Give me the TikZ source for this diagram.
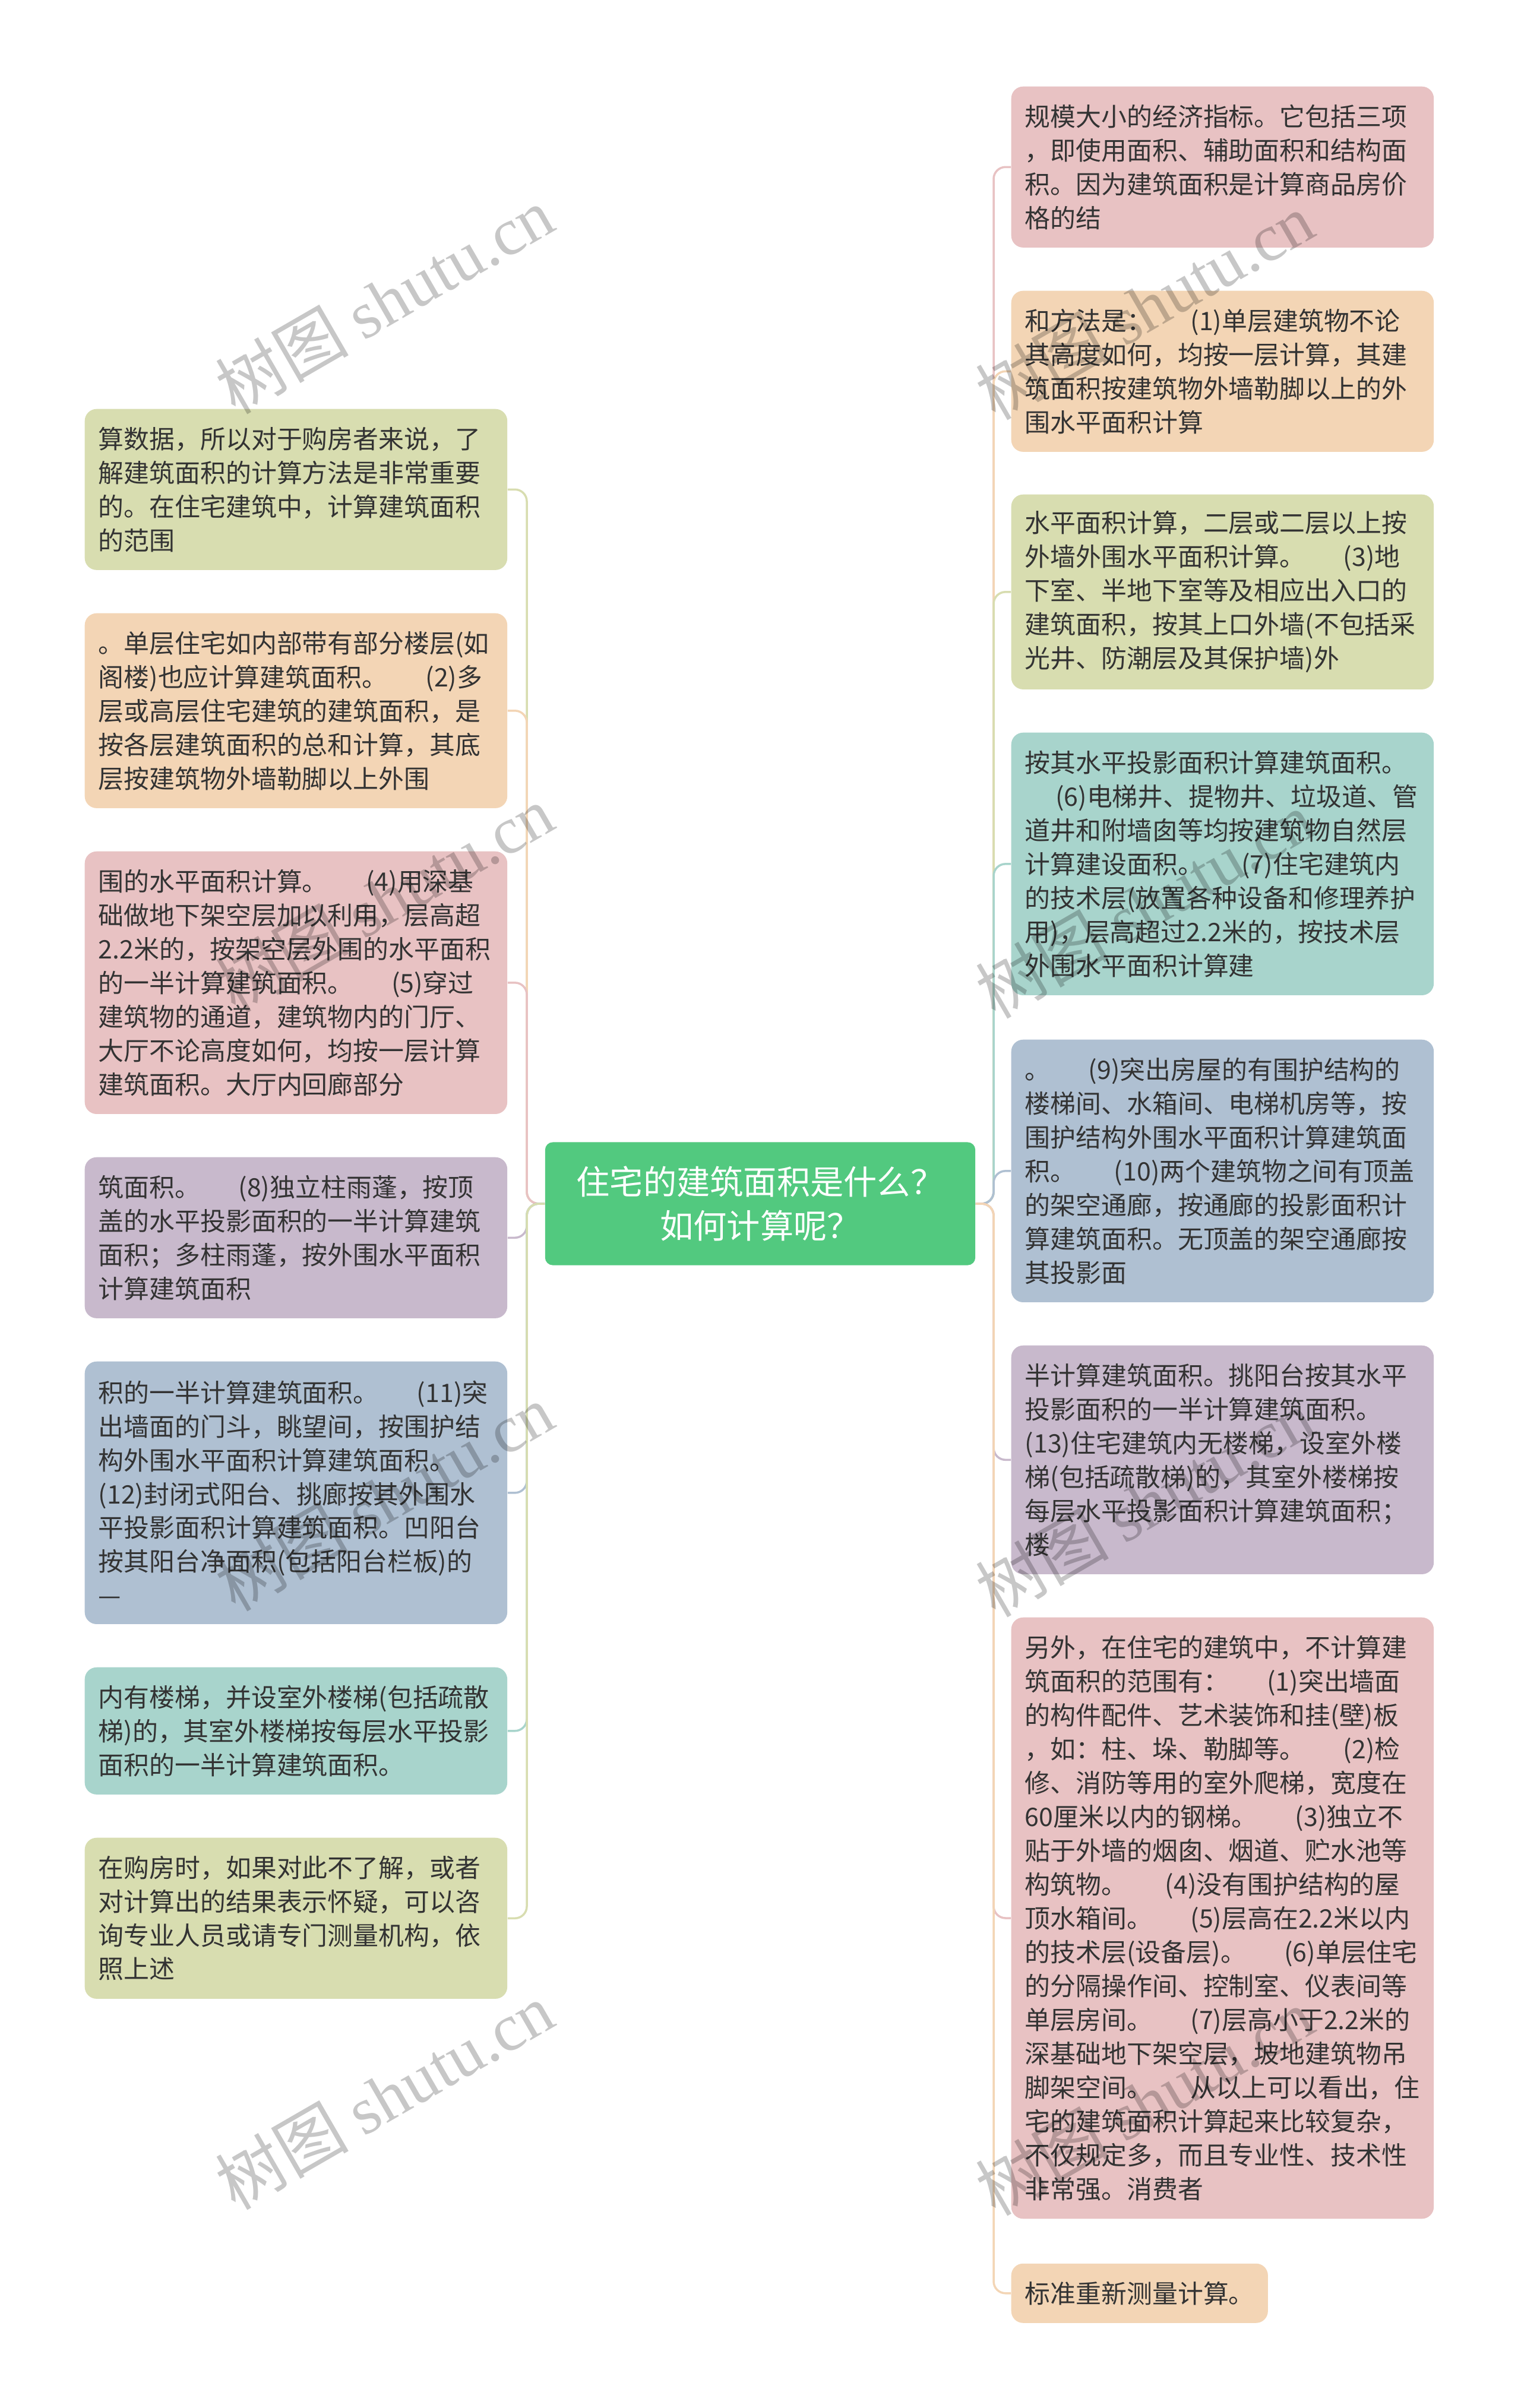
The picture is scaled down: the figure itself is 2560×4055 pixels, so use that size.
\documentclass[tikz,border=0pt]{standalone}
\usepackage{fontspec}
\setmainfont{Noto Sans CJK SC}
\newfontfamily\wmlatin{Liberation Serif}
\newfontfamily\wmcjk{Noto Sans CJK SC}
\definecolor{cPink}{RGB}{232,194,195}
\definecolor{cPeach}{RGB}{243,213,181}
\definecolor{cGreen}{RGB}{216,221,176}
\definecolor{cLav}{RGB}{200,185,204}
\definecolor{cBlue}{RGB}{175,192,210}
\definecolor{cTeal}{RGB}{168,212,204}
\definecolor{rootgreen}{RGB}{82,201,127}
\definecolor{txt}{RGB}{51,51,51}
\newcommand{\gp}{\hspace{1.5em}}
\begin{document}
\begin{tikzpicture}[x=0.01cm,y=-0.01cm,
  box/.style={anchor=north west, rounded corners=0.2cm, text width=6.65cm, align=left,
    inner xsep=0.23cm, inner ysep=0pt, font=\fontsize{12.2pt}{16.2pt}\selectfont, text=txt},
  shortbox/.style={anchor=north west, rounded corners=0.2cm, align=left,
    inner xsep=0.23cm, inner ysep=0pt, font=\fontsize{12.2pt}{16.2pt}\selectfont, text=txt},
  rootbox/.style={fill=rootgreen, text=white, minimum width=7.24cm, minimum height=2.07cm,
    rounded corners=0.13cm, align=center, font=\fontsize{16pt}{21pt}\selectfont},
  conn/.style={line width=1pt, rounded corners=0.2cm},
  wm/.style={rotate=30, text=black, opacity=0.22, font=\fontsize{32pt}{36pt}\selectfont}]
\useasboundingbox (0,0) rectangle (2560,4055);
\fill[white] (0,0) rectangle (2560,4055);

% root
\node[rootbox] (root) at (1280,2027) {住宅的建筑面积是什么？\\如何计算呢？};
\coordinate (lt) at (887,2027);
\coordinate (rt) at (1673,2027);

% left boxes
\node[box, fill=cGreen, minimum height=2.71cm] (L1) at (142,688)
 {算数据，所以对于购房者来说，了\\解建筑面积的计算方法是非常重要\\的。在住宅建筑中，计算建筑面积\\的范围};
\node[box, fill=cPeach, minimum height=3.28cm] (L2) at (142,1032)
 {。单层住宅如内部带有部分楼层(如\\阁楼)也应计算建筑面积。\gp{}(2)多\\层或高层住宅建筑的建筑面积，是\\按各层建筑面积的总和计算，其底\\层按建筑物外墙勒脚以上外围};
\node[box, fill=cPink, minimum height=4.42cm] (L3) at (142,1433)
 {围的水平面积计算。\gp{}(4)用深基\\础做地下架空层加以利用，层高超\\2.2米的，按架空层外围的水平面积\\的一半计算建筑面积。\gp{}(5)穿过\\建筑物的通道，建筑物内的门厅、\\大厅不论高度如何，均按一层计算\\建筑面积。大厅内回廊部分};
\node[box, fill=cLav, minimum height=2.71cm] (L4) at (142,1948)
 {筑面积。\gp{}(8)独立柱雨蓬，按顶\\盖的水平投影面积的一半计算建筑\\面积；多柱雨蓬，按外围水平面积\\计算建筑面积};
\node[box, fill=cBlue, minimum height=4.42cm] (L5) at (142,2292)
 {积的一半计算建筑面积。\gp{}(11)突\\出墙面的门斗，眺望间，按围护结\\构外围水平面积计算建筑面积。\\(12)封闭式阳台、挑廊按其外围水\\平投影面积计算建筑面积。凹阳台\\按其阳台净面积(包括阳台栏板)的\\—};
\node[box, fill=cTeal, minimum height=2.14cm] (L6) at (142,2807)
 {内有楼梯，并设室外楼梯(包括疏散\\梯)的，其室外楼梯按每层水平投影\\面积的一半计算建筑面积。};
\node[box, fill=cGreen, minimum height=2.71cm] (L7) at (142,3094)
 {在购房时，如果对此不了解，或者\\对计算出的结果表示怀疑，可以咨\\询专业人员或请专门测量机构，依\\照上述};

% right boxes
\node[box, fill=cPink, minimum height=2.71cm] (R1) at (1702,145)
 {规模大小的经济指标。它包括三项\\，即使用面积、辅助面积和结构面\\积。因为建筑面积是计算商品房价\\格的结};
\node[box, fill=cPeach, minimum height=2.71cm] (R2) at (1702,489)
 {和方法是：\gp{}(1)单层建筑物不论\\其高度如何，均按一层计算，其建\\筑面积按建筑物外墙勒脚以上的外\\围水平面积计算};
\node[box, fill=cGreen, minimum height=3.28cm] (R3) at (1702,832)
 {水平面积计算，二层或二层以上按\\外墙外围水平面积计算。\gp{}(3)地\\下室、半地下室等及相应出入口的\\建筑面积，按其上口外墙(不包括采\\光井、防潮层及其保护墙)外};
\node[box, fill=cTeal, minimum height=4.42cm] (R4) at (1702,1233)
 {按其水平投影面积计算建筑面积。\\\hspace*{1.2em}(6)电梯井、提物井、垃圾道、管\\道井和附墙囱等均按建筑物自然层\\计算建设面积。\gp{}(7)住宅建筑内\\的技术层(放置各种设备和修理养护\\用)，层高超过2.2米的，按技术层\\外围水平面积计算建};
\node[box, fill=cBlue, minimum height=4.42cm] (R5) at (1702,1750)
 {。\gp{}(9)突出房屋的有围护结构的\\楼梯间、水箱间、电梯机房等，按\\围护结构外围水平面积计算建筑面\\积。\gp{}(10)两个建筑物之间有顶盖\\的架空通廊，按通廊的投影面积计\\算建筑面积。无顶盖的架空通廊按\\其投影面};
\node[box, fill=cLav, minimum height=3.85cm] (R6) at (1702,2265)
 {半计算建筑面积。挑阳台按其水平\\投影面积的一半计算建筑面积。\\(13)住宅建筑内无楼梯，设室外楼\\梯(包括疏散梯)的，其室外楼梯按\\每层水平投影面积计算建筑面积；\\楼};
\node[box, fill=cPink, minimum height=10.12cm] (R7) at (1702,2723)
 {另外，在住宅的建筑中，不计算建\\筑面积的范围有：\gp{}(1)突出墙面\\的构件配件、艺术装饰和挂(壁)板\\，如：柱、垛、勒脚等。\gp{}(2)检\\修、消防等用的室外爬梯，宽度在\\60厘米以内的钢梯。\gp{}(3)独立不\\贴于外墙的烟囱、烟道、贮水池等\\构筑物。\gp{}(4)没有围护结构的屋\\顶水箱间。\gp{}(5)层高在2.2米以内\\的技术层(设备层)。\gp{}(6)单层住宅\\的分隔操作间、控制室、仪表间等\\单层房间。\gp{}(7)层高小于2.2米的\\深基础地下架空层，坡地建筑物吊\\脚架空间。\gp{}从以上可以看出，住\\宅的建筑面积计算起来比较复杂，\\不仅规定多，而且专业性、技术性\\非常强。消费者};
\node[shortbox, fill=cPeach, minimum height=1.0cm] (R8) at (1702,3811)
 {标准重新测量计算。};

% connectors left
\draw[conn, cGreen] (root.west) -- (lt) |- (L1.east);
\draw[conn, cPeach] (root.west) -- (lt) |- (L2.east);
\draw[conn, cPink]  (root.west) -- (lt) |- (L3.east);
\draw[conn, cLav]   (root.west) -- (lt) |- (L4.east);
\draw[conn, cBlue]  (root.west) -- (lt) |- (L5.east);
\draw[conn, cTeal]  (root.west) -- (lt) |- (L6.east);
\draw[conn, cGreen] (root.west) -- (lt) |- (L7.east);
% connectors right
\draw[conn, cPink]  (root.east) -- (rt) |- (R1.west);
\draw[conn, cPeach] (root.east) -- (rt) |- (R2.west);
\draw[conn, cGreen] (root.east) -- (rt) |- (R3.west);
\draw[conn, cTeal]  (root.east) -- (rt) |- (R4.west);
\draw[conn, cBlue]  (root.east) -- (rt) |- (R5.west);
\draw[conn, cLav]   (root.east) -- (rt) |- (R6.west);
\draw[conn, cPink]  (root.east) -- (rt) |- (R7.west);
\draw[conn, cPeach] (root.east) -- (rt) |- (R8.west);

% watermarks
\node[wm] (w1) at (647,505) {{\wmcjk 树图} {\wmlatin shutu.cn}};
\node[wm] (w2) at (647,1513) {{\wmcjk 树图} {\wmlatin shutu.cn}};
\node[wm] (w3) at (647,2521) {{\wmcjk 树图} {\wmlatin shutu.cn}};
\node[wm] (w4) at (647,3529) {{\wmcjk 树图} {\wmlatin shutu.cn}};
\node[wm] (w5) at (1927,515) {{\wmcjk 树图} {\wmlatin shutu.cn}};
\node[wm] (w6) at (1927,1523) {{\wmcjk 树图} {\wmlatin shutu.cn}};
\node[wm] (w7) at (1927,2531) {{\wmcjk 树图} {\wmlatin shutu.cn}};
\node[wm] (w8) at (1927,3539) {{\wmcjk 树图} {\wmlatin shutu.cn}};
\end{tikzpicture}
\end{document}
